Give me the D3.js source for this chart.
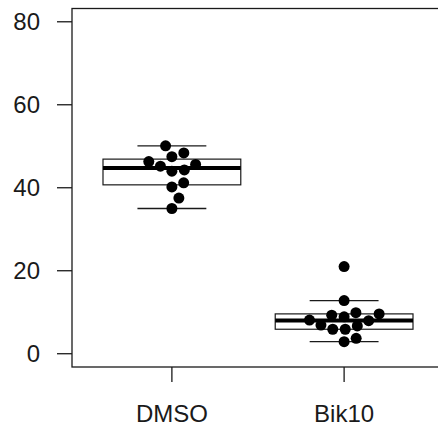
<!DOCTYPE html>
<html>
<head>
<meta charset="utf-8">
<script src="https://cdn.jsdelivr.net/npm/d3@7"></script>
<style>
  html, body { margin: 0; padding: 0; background: #fff; }
  svg { display: block; }
</style>
</head>
<body>
<svg id="chart" width="438" height="425"></svg>
<script>
const categories = ["DMSO", "Bik10"];
const dmsoValues = [35.0, 37.5, 40.2, 41.2, 44.0, 44.3, 45.2, 45.6, 46.3, 47.5, 48.4, 50.1];
const bik10Values = [2.9, 3.7, 5.9, 5.9, 6.7, 6.9, 7.95, 8.1, 8.9, 9.3, 9.6, 9.9, 12.8, 21.0];
const yTicks = [0, 20, 40, 60, 80];

const series = [dmsoValues, bik10Values];

const width = 438, height = 425;
const svg = d3.select("#chart");

// plot region like base R: limits padded by 4%
const x = d3.scalePoint().domain(categories).range([72, 444]).padding(0.58);
const y = d3.scaleLinear().domain([-3.2, 83.2]).range([367, 8.5]);
const step = x.step();

const ink = "#1a1a1a";
const font = "'Liberation Sans', Arial, sans-serif";

// frame
svg.append("rect")
  .attr("x", 72).attr("y", y(83.2))
  .attr("width", 444 - 72).attr("height", y(-3.2) - y(83.2))
  .attr("fill", "none").attr("stroke", ink).attr("stroke-width", 1.3);

// y axis ticks + labels
const yAxis = svg.append("g");
yAxis.selectAll("line").data(yTicks).enter().append("line")
  .attr("x1", 57).attr("x2", 72)
  .attr("y1", d => y(d)).attr("y2", d => y(d))
  .attr("stroke", ink).attr("stroke-width", 1.3);
yAxis.selectAll("text").data(yTicks).enter().append("text")
  .attr("x", 40).attr("y", d => y(d)).attr("dy", "0.35em")
  .attr("text-anchor", "end")
  .attr("font-family", font).attr("font-size", 24).attr("fill", ink)
  .text(d => d);

// x axis ticks + labels
const xAxis = svg.append("g");
xAxis.selectAll("line").data(categories).enter().append("line")
  .attr("x1", d => x(d)).attr("x2", d => x(d))
  .attr("y1", y(-3.2)).attr("y2", y(-3.2) + 15)
  .attr("stroke", ink).attr("stroke-width", 1.3);
xAxis.selectAll("text").data(categories).enter().append("text")
  .attr("x", d => x(d)).attr("y", 421.5)
  .attr("text-anchor", "middle")
  .attr("font-family", font).attr("font-size", 24).attr("fill", ink)
  .text(d => d);

// Tukey five-number summary, same as R fivenum()
function fivenum(vals) {
  const s = vals.slice().sort((a, b) => a - b);
  const n = s.length;
  const n4 = Math.floor((n + 3) / 2) / 2;
  const idx = [1, n4, (n + 1) / 2, n + 1 - n4, n];
  return idx.map(i => 0.5 * (s[Math.floor(i) - 1] + s[Math.ceil(i) - 1]));
}

// boxplots
series.forEach((vals, gi) => {
  const cx = x(categories[gi]);
  const f = fivenum(vals);
  const iqr = f[3] - f[1];
  const s = vals.slice().sort((a, b) => a - b);
  const loW = d3.min(s.filter(v => v >= f[1] - 1.5 * iqr));
  const hiW = d3.max(s.filter(v => v <= f[3] + 1.5 * iqr));
  const bw = step * 0.4, sw = step * 0.2;
  const g = svg.append("g");
  g.append("rect")
    .attr("x", cx - bw).attr("y", y(f[3]))
    .attr("width", 2 * bw).attr("height", y(f[1]) - y(f[3]))
    .attr("fill", "#fff").attr("stroke", ink).attr("stroke-width", 1.2);
  g.append("line")
    .attr("x1", cx - bw).attr("x2", cx + bw)
    .attr("y1", y(f[2])).attr("y2", y(f[2]))
    .attr("stroke", "#000").attr("stroke-width", 4);
  [loW, hiW].forEach(w => {
    g.append("line")
      .attr("x1", cx - sw).attr("x2", cx + sw)
      .attr("y1", y(w)).attr("y2", y(w))
      .attr("stroke", ink).attr("stroke-width", 1.3);
  });
});

// beeswarm (swarm method, ascending priority)
const spacing = 12.5, r = 5.5;
function swarm(vals) {
  const order = vals.map((v, i) => ({ v, py: y(v) })).sort((a, b) => a.v - b.v);
  const placed = [];
  order.forEach(p => {
    const near = placed.filter(q => Math.abs(q.py - p.py) < spacing);
    const cands = [0];
    near.forEach(q => {
      const off = Math.sqrt(spacing * spacing - (q.py - p.py) ** 2);
      cands.push(q.dx + off);
    });
    near.forEach(q => {
      const off = Math.sqrt(spacing * spacing - (q.py - p.py) ** 2);
      cands.push(q.dx - off);
    });
    let best = Infinity;
    cands.forEach(c => {
      const bad = near.some(q => (c - q.dx) ** 2 + (p.py - q.py) ** 2 < spacing * spacing * 0.999);
      if (!bad && Math.abs(c) < Math.abs(best)) best = c;
    });
    p.dx = best;
    placed.push(p);
  });
  return placed;
}

series.forEach((vals, gi) => {
  const cx = x(categories[gi]);
  svg.append("g").selectAll("circle")
    .data(swarm(vals))
    .enter().append("circle")
    .attr("cx", d => cx + d.dx)
    .attr("cy", d => d.py)
    .attr("r", r)
    .attr("fill", "#000");
});
</script>
</body>
</html>
